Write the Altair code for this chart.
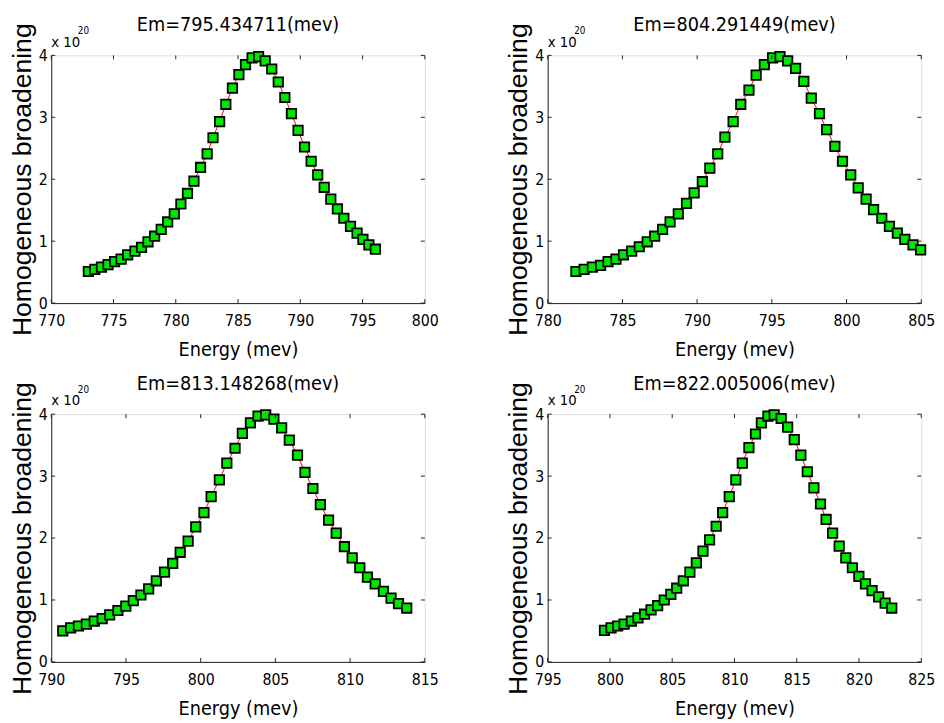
import altair as alt
import pandas as pd

TITLES = ["Em=795.434711(mev)", "Em=804.291449(mev)",
          "Em=813.148268(mev)", "Em=822.005006(mev)"]
X_DOMAINS = [[770, 800], [780, 805], [790, 815], [795, 825]]
X_TICKS = [[770, 775, 780, 785, 790, 795, 800],
           [780, 785, 790, 795, 800, 805],
           [790, 795, 800, 805, 810, 815],
           [795, 800, 805, 810, 815, 820, 825]]
Y_TICKS = [0, 1, 2, 3, 4]

energy_1 = [772.98, 773.50, 774.03, 774.56, 775.09, 775.61, 776.14, 776.72, 777.25,
            777.77, 778.30, 778.83, 779.35, 779.88, 780.41, 780.94, 781.46, 781.99,
            782.52, 782.99, 783.52, 784.02, 784.55, 785.07, 785.60, 786.13, 786.65,
            787.18, 787.71, 788.23, 788.76, 789.29, 789.82, 790.34, 790.87, 791.40,
            791.92, 792.45, 792.98, 793.50, 794.03, 794.56, 795.03, 795.51, 796.03]
broad_1 = [0.51, 0.545, 0.58, 0.62, 0.67, 0.71, 0.78, 0.84, 0.90, 0.99, 1.08, 1.19,
           1.31, 1.44, 1.60, 1.77, 1.97, 2.19, 2.41, 2.67, 2.93, 3.21, 3.47, 3.69,
           3.85, 3.96, 3.98, 3.91, 3.78, 3.57, 3.32, 3.06, 2.79, 2.52, 2.29, 2.07,
           1.87, 1.68, 1.52, 1.37, 1.24, 1.13, 1.03, 0.94, 0.87]

energy_2 = [781.89, 782.44, 782.99, 783.54, 784.04, 784.57, 785.07, 785.62, 786.13,
            786.66, 787.16, 787.69, 788.19, 788.74, 789.29, 789.80, 790.35, 790.85,
            791.38, 791.86, 792.41, 792.92, 793.47, 793.95, 794.50, 795.05, 795.55,
            796.06, 796.59, 797.14, 797.64, 798.19, 798.67, 799.22, 799.73, 800.28,
            800.78, 801.31, 801.81, 802.36, 802.87, 803.40, 803.90, 804.45, 804.96]
broad_2 = [0.51, 0.545, 0.58, 0.61, 0.67, 0.71, 0.78, 0.84, 0.91, 0.99, 1.08, 1.19,
           1.31, 1.44, 1.61, 1.78, 1.96, 2.18, 2.41, 2.68, 2.93, 3.21, 3.44, 3.68,
           3.85, 3.96, 3.98, 3.91, 3.79, 3.58, 3.31, 3.06, 2.80, 2.53, 2.29, 2.07,
           1.86, 1.68, 1.51, 1.37, 1.24, 1.13, 1.03, 0.94, 0.86]

energy_3 = [790.77, 791.30, 791.82, 792.35, 792.88, 793.41, 793.91, 794.46, 794.99,
            795.49, 796.00, 796.52, 797.03, 797.58, 798.13, 798.63, 799.16, 799.67,
            800.22, 800.70, 801.25, 801.75, 802.30, 802.79, 803.33, 803.84, 804.35,
            804.90, 805.42, 805.93, 806.48, 806.98, 807.51, 808.01, 808.56, 809.07,
            809.62, 810.14, 810.65, 811.16, 811.68, 812.23, 812.74, 813.24, 813.79]
broad_3 = [0.50, 0.55, 0.58, 0.61, 0.66, 0.70, 0.76, 0.83, 0.90, 0.99, 1.08, 1.18,
           1.31, 1.45, 1.59, 1.77, 1.95, 2.18, 2.41, 2.67, 2.94, 3.21, 3.45, 3.69,
           3.86, 3.97, 3.99, 3.92, 3.78, 3.58, 3.34, 3.06, 2.80, 2.54, 2.29, 2.08,
           1.86, 1.68, 1.52, 1.37, 1.26, 1.14, 1.03, 0.94, 0.87]

energy_4 = [799.56, 800.09, 800.62, 801.14, 801.72, 802.25, 802.78, 803.30, 803.83,
            804.36, 804.89, 805.36, 805.89, 806.42, 806.94, 807.47, 808.00, 808.53,
            809.05, 809.58, 810.11, 810.63, 811.16, 811.69, 812.16, 812.69, 813.19,
            813.75, 814.27, 814.80, 815.33, 815.85, 816.38, 816.91, 817.36, 817.88,
            818.41, 818.94, 819.47, 819.99, 820.52, 821.05, 821.58, 822.10, 822.63]
broad_4 = [0.51, 0.55, 0.58, 0.61, 0.66, 0.71, 0.77, 0.84, 0.91, 1.00, 1.09, 1.19,
           1.31, 1.45, 1.60, 1.79, 1.97, 2.19, 2.41, 2.67, 2.94, 3.21, 3.46, 3.68,
           3.86, 3.97, 3.99, 3.93, 3.79, 3.59, 3.34, 3.07, 2.81, 2.55, 2.30, 2.08,
           1.87, 1.68, 1.52, 1.38, 1.26, 1.15, 1.05, 0.95, 0.87]

ENERGIES = [energy_1, energy_2, energy_3, energy_4]
BROADS = [broad_1, broad_2, broad_3, broad_4]

NARROW = "DejaVu Sans Condensed, Liberation Sans Narrow, sans-serif"
REG = "Liberation Sans, Arial, sans-serif"
W, H = 380, 252
TICK = 4


def panel(title, energy, broad, xdom, xticks):
    df = pd.DataFrame({"energy": energy, "broad": broad})
    xscale = alt.Scale(domain=xdom, nice=False, zero=False)
    yscale = alt.Scale(domain=[0, 4], nice=False, zero=False)
    xaxis = alt.Axis(values=xticks, title="Energy (mev)", ticks=False, grid=False,
                     labelFlush=False, labelOverlap=False, labelPadding=10,
                     labelFont=NARROW, labelFontSize=16, titleFont=NARROW,
                     titleFontSize=20, titleFontWeight="normal", titlePadding=11,
                     domainColor="#222222", labelColor="black", titleColor="black")
    yaxis = alt.Axis(values=Y_TICKS, title="Homogeneous  broadening", ticks=False,
                     grid=False, labelFlush=False, labelOverlap=False, labelPadding=4,
                     labelFont=NARROW, labelFontSize=16, titleFont=REG,
                     titleFontSize=27, titleFontWeight="normal", titlePadding=2,
                     domainColor="#222222", labelColor="black", titleColor="black")
    x = alt.X("energy:Q", scale=xscale, axis=xaxis)
    y = alt.Y("broad:Q", scale=yscale, axis=yaxis)

    line = alt.Chart(df).mark_line(color="#ff0000", strokeWidth=1).encode(x=x, y=y)
    pts = alt.Chart(df).mark_square(size=92, fill="#00e600", stroke="black",
                                    strokeWidth=1.8, opacity=1,
                                    fillOpacity=1).encode(x=x, y=y)

    xt = pd.DataFrame({"energy": xticks})
    yt = pd.DataFrame({"broad": Y_TICKS})
    tick_style = dict(color="#222222", strokeWidth=1)
    xb = alt.Chart(xt).mark_rule(**tick_style).encode(
        x=x, y=alt.value(H), y2=alt.value(H - TICK))
    xtp = alt.Chart(xt).mark_rule(**tick_style).encode(
        x=x, y=alt.value(0), y2=alt.value(TICK))
    yl = alt.Chart(yt).mark_rule(**tick_style).encode(
        y=y, x=alt.value(0), x2=alt.value(TICK))
    yr = alt.Chart(yt).mark_rule(**tick_style).encode(
        y=y, x=alt.value(W), x2=alt.value(W - TICK))

    exp_df = pd.DataFrame({"s": ["x 10"], "e": ["20"]})
    t1 = alt.Chart(exp_df).mark_text(align="left", baseline="alphabetic", font=NARROW,
                                     fontSize=15, color="black").encode(
        x=alt.value(0), y=alt.value(-9), text="s:N")
    t2 = alt.Chart(exp_df).mark_text(align="left", baseline="alphabetic", font=NARROW,
                                     fontSize=10, color="black").encode(
        x=alt.value(27), y=alt.value(-22), text="e:N")

    return alt.layer(line, pts, xb, xtp, yl, yr, t1, t2).properties(
        width=W, height=H,
        title=alt.TitleParams(text=title, font=NARROW, fontSize=20,
                              fontWeight="normal", color="black", offset=-16))


panels = [panel(TITLES[i], ENERGIES[i], BROADS[i], X_DOMAINS[i], X_TICKS[i])
          for i in range(4)]

chart = alt.vconcat(
    alt.hconcat(panels[0], panels[1], spacing=66),
    alt.hconcat(panels[2], panels[3], spacing=66),
    spacing=13,
).properties(
    padding={"left": 0, "top": 0, "right": 0, "bottom": 0}
).configure_view(
    stroke="#222222", strokeWidth=1
).configure(background="white")

chart.save("out.html", embed_options={"renderer": "svg", "actions": False})
